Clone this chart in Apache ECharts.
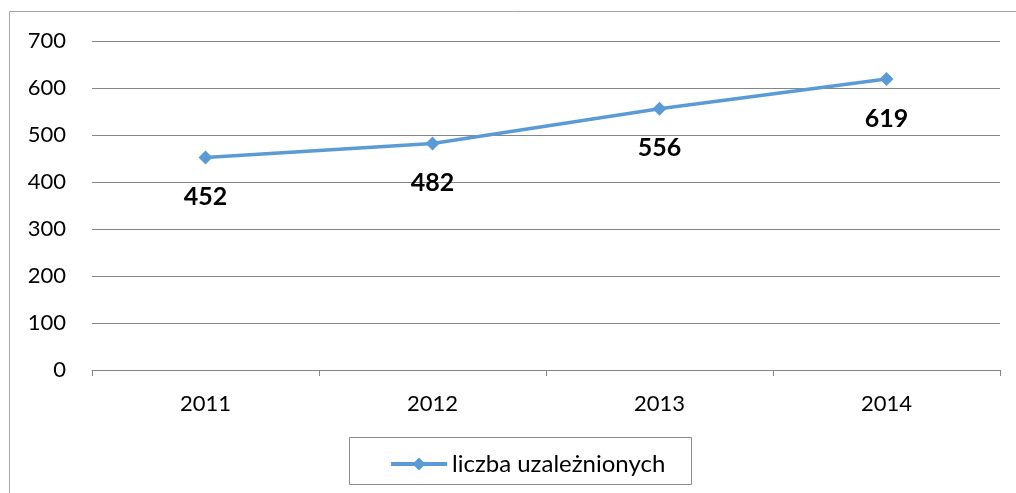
<!DOCTYPE html>
<html><head><meta charset="utf-8">
<script src="https://cdn.jsdelivr.net/npm/echarts@6/dist/echarts.min.js"></script>
<style>html,body{margin:0;padding:0;background:#fff}#c{width:1016px;height:493px}</style>
</head><body><div id="c"></div>
<script>
const categories = ['2011', '2012', '2013', '2014'];
const values = [452, 482, 556, 619];
const seriesName = 'liczba uzależnionych';
const yTicks = [0, 100, 200, 300, 400, 500, 600, 700];

const chart = echarts.init(document.getElementById('c'));
const font = 'Lato, "Open Sans", sans-serif';
chart.setOption({
  animation: false,
  textStyle: { fontFamily: font },
  graphic: [
    { type: 'rect', shape: { x: 9.5, y: 11.5, width: 1020, height: 500 }, style: { fill: 'none', stroke: '#a6a6a6', lineWidth: 1 }, z: -1 },
    { type: 'rect', shape: { x: 349.5, y: 437.5, width: 342, height: 47 }, style: { fill: 'none', stroke: '#8c8c8c', lineWidth: 1 }, z: -1 }
  ],
  grid: { left: 92, right: 16, top: 41, bottom: 123, containLabel: false },
  legend: {
    data: [{ name: seriesName, itemStyle: { color: '#5B9BD5' }, lineStyle: { width: 4, color: '#5B9BD5' } }],
    left: 384, top: 447, itemWidth: 56, itemHeight: 16,
    textStyle: { fontSize: 24, color: '#000', fontFamily: font }, itemGap: 4
  },
  xAxis: {
    type: 'category', data: categories, boundaryGap: true,
    axisLine: { lineStyle: { color: '#868686' } },
    axisTick: { show: true, length: 6, alignWithLabel: false, lineStyle: { color: '#868686' } },
    axisLabel: { fontSize: 22, color: '#000', margin: 23, fontFamily: font }
  },
  yAxis: {
    type: 'value', min: yTicks[0], max: yTicks[yTicks.length - 1], interval: 100,
    axisLine: { show: false }, axisTick: { show: false },
    splitLine: { lineStyle: { color: '#868686' } },
    axisLabel: { fontSize: 22, color: '#000', margin: 26, fontFamily: font }
  },
  series: [{
    name: seriesName, type: 'line', data: values,
    symbol: 'diamond', symbolSize: 14,
    lineStyle: { color: '#5B9BD5', width: 3.5 },
    itemStyle: { color: '#5B9BD5' },
    label: { show: true, position: 'bottom', distance: 20, fontSize: 25, fontWeight: 'bold', color: '#000', fontFamily: font }
  }]
});
</script></body></html>
